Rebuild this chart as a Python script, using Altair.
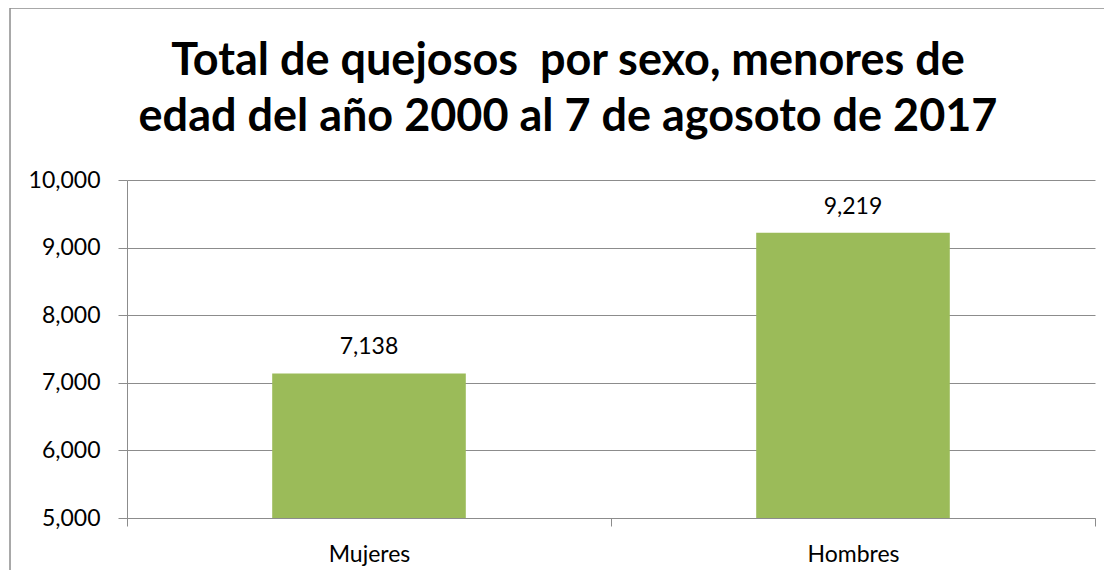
import altair as alt
import pandas as pd

categories = ["Mujeres", "Hombres"]
values = [7138, 9219]
y_ticks = [5000, 6000, 7000, 8000, 9000, 10000]
title_lines = ["Total de quejosos\u00a0 por sexo, menores de", "edad del año 2000 al 7 de agosoto de 2017"]

df = pd.DataFrame({"sexo": categories, "total": values})

FONT = "Lato"
GRID = "#8c8c8c"
W, H = 968, 338
FS = 23

base = alt.Chart(df)

bars = base.mark_bar(color="#9BBB59", width=alt.RelativeBandSize(0.4)).encode(
    x=alt.X("sexo:N", sort=categories,
            scale=alt.Scale(paddingInner=0, paddingOuter=0),
            axis=alt.Axis(title=None, labelAngle=0, tickBand="extent", domainColor=GRID,
                          tickColor=GRID, tickSize=8, labelPadding=35,
                          labelBaseline="alphabetic", labelFont=FONT, labelFontSize=FS,
                          labelColor="#000000", grid=False)),
    y=alt.Y("total:Q", scale=alt.Scale(domain=[5000, 10000], zero=False, nice=False),
            axis=alt.Axis(title=None, values=y_ticks, format=",d", grid=True,
                          gridColor=GRID, domainColor=GRID, tickColor=GRID, tickSize=9,
                          labelPadding=18, labelFont=FONT, labelFontSize=FS,
                          labelColor="#000000")),
    y2=alt.datum(5000),
)

labels = base.mark_text(font=FONT, fontSize=FS, color="#000000", baseline="alphabetic",
                        dy=-19).encode(
    x=alt.X("sexo:N", sort=categories),
    y=alt.Y("total:Q"),
    text=alt.Text("total:Q", format=",d"),
)

frame_left = base.mark_rule(color=GRID, strokeWidth=1, clip=False).encode(
    x=alt.value(-117), y=alt.value(-172), y2=alt.value(600))
frame_top = base.mark_rule(color=GRID, strokeWidth=1, clip=False).encode(
    x=alt.value(-117), x2=alt.value(1100), y=alt.value(-172))

def title_line(text, ypix):
    return alt.Chart(pd.DataFrame({"t": [text]})).mark_text(
        font=FONT, fontSize=45, fontWeight="bold", color="#000000",
        align="center", baseline="alphabetic").encode(
        text="t:N", x=alt.value(441), y=alt.value(ypix))

t1 = title_line(title_lines[0], -105)
t2 = title_line(title_lines[1], -49)

chart = alt.layer(frame_left, frame_top, bars, labels, t1, t2).properties(
    width=W, height=H,
    autosize=alt.AutoSizeParams(type="none"),
    padding={"left": 119, "top": 172, "right": 9, "bottom": 52},
).configure_view(strokeWidth=0)

chart.save("out.html", embed_options={"renderer": "svg", "actions": False})
